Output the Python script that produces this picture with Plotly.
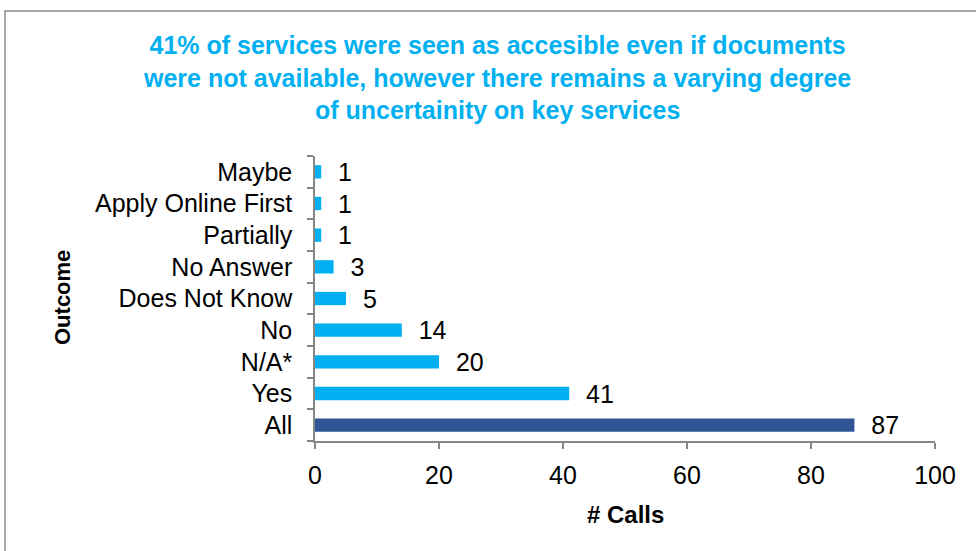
import plotly.graph_objects as go

categories = ["All", "Yes", "N/A*", "No", "Does Not Know", "No Answer", "Partially", "Apply Online First", "Maybe"]
values = [87, 41, 20, 14, 5, 3, 1, 1, 1]
colors = ["#2F5597"] + ["#00B0F0"] * 8

title_text = ("41% of services were seen as accesible even if documents<br>"
              "were not available, however there remains a varying degree<br>"
              "of uncertainity on key services")

FONT = "Liberation Sans, Arial"
L, R, T, B = 315, 41, 156, 110
W, H = 976, 551
pw = W - L - R
ph = H - T - B

fig = go.Figure()
fig.add_trace(go.Bar(
    y=categories, x=values, orientation="h",
    marker=dict(color=colors, line=dict(width=0)),
    text=["  " + str(v) for v in values], textposition="outside",
    constraintext="none",
    textfont=dict(family=FONT, size=25, color="#000000"),
    cliponaxis=False,
))

fig.update_layout(
    width=W, height=H,
    margin=dict(l=L, r=R, t=T, b=B, pad=0, autoexpand=False),
    paper_bgcolor="white", plot_bgcolor="white",
    bargap=0.58,
    showlegend=False,
    font=dict(family=FONT, size=25, color="#000000"),
    xaxis=dict(
        range=[0, 100], dtick=20, showgrid=False, zeroline=False,
        showline=True, linecolor="#868686", linewidth=1.5,
        ticks="outside", ticklen=6, tickcolor="#868686", tickwidth=1.5,
        tickfont=dict(size=25), ticklabelstandoff=5,
    ),
    yaxis=dict(
        showgrid=False, zeroline=False, type="category",
        showline=True, linecolor="#868686", linewidth=1.5,
        ticks="outside", ticklen=6, tickcolor="#868686", tickwidth=1.5,
        tickson="boundaries", tickfont=dict(size=25), ticklabelstandoff=16,
    ),
)

def py(pix):
    return 1 - (pix - T) / ph

def px(pix):
    return (pix - L) / pw

fig.add_annotation(text="<b>" + title_text + "</b>", xref="paper", yref="paper",
                   x=px(497), y=py(77), xanchor="center", yanchor="middle",
                   showarrow=False, align="center",
                   font=dict(family=FONT, size=25, color="#00B0F0"))
fig.add_annotation(text="<b># Calls</b>", xref="paper", yref="paper",
                   x=px(625), y=py(514), xanchor="center", yanchor="middle",
                   showarrow=False, font=dict(family=FONT, size=24, color="#000000"))
fig.add_annotation(text="<b>Outcome</b>", xref="paper", yref="paper",
                   x=px(62), y=py(298), xanchor="center", yanchor="middle", textangle=-90,
                   showarrow=False, font=dict(family=FONT, size=22, color="#000000"))

# outer chart border
fig.add_shape(type="rect", xref="paper", yref="paper",
              x0=px(5), x1=px(W + 10),
              y0=py(H + 10), y1=py(11),
              line=dict(color="#8C8C8C", width=1.5), fillcolor="rgba(0,0,0,0)", layer="below")

fig.write_html("out.html")
